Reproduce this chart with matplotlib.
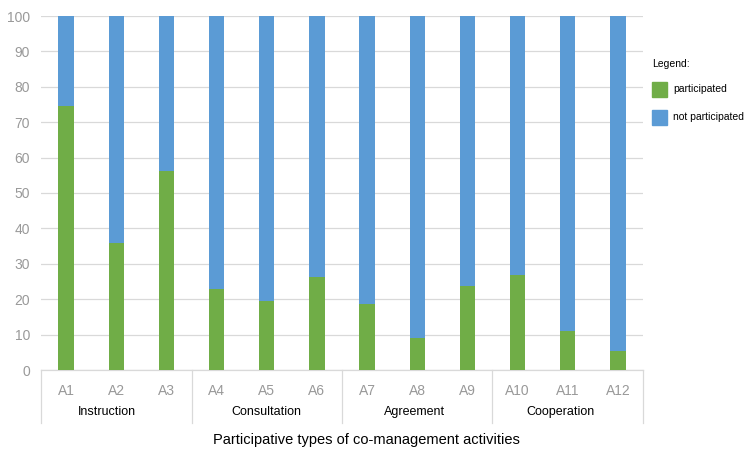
import matplotlib
matplotlib.use("Agg")
import matplotlib.pyplot as plt
from matplotlib.patches import Rectangle
import matplotlib.transforms as mtransforms

plt.rcParams["font.family"] = ["Liberation Sans", "DejaVu Sans"]

# Activity codes, their grouping and participation shares (%)
activities = ["A1", "A2", "A3", "A4", "A5", "A6", "A7", "A8", "A9", "A10", "A11", "A12"]
groups = ["Instruction", "Consultation", "Agreement", "Cooperation"]
participated = [74.5, 35.8, 56.2, 22.8, 19.5, 26.4, 18.7, 8.9, 23.8, 26.8, 11.0, 5.4]
not_participated = [100 - v for v in participated]
yticks = list(range(0, 101, 10))

GREEN = "#70AD47"
BLUE = "#5B9BD5"
GRID = "#D9D9D9"
TICK = "#999999"
NARROW = ["Liberation Sans Narrow", "Liberation Sans", "DejaVu Sans"]

W, H = 749, 455
fig = plt.figure(figsize=(W / 100, H / 100), dpi=100)
ax = fig.add_axes([41 / W, (H - 370) / H, 602 / W, 354 / H])

x = list(range(len(activities)))
ax.bar(x, participated, width=0.305, color=GREEN, zorder=3)
ax.bar(x, not_participated, bottom=participated, width=0.305, color=BLUE, zorder=3)

ax.set_xlim(-0.5, len(activities) - 0.5)
ax.set_ylim(0, 100)
ax.set_yticks(yticks)
ax.set_yticklabels([str(v) for v in yticks], family=NARROW, fontsize=10, color=TICK)
ax.tick_params(axis="y", length=0, pad=8)
ax.set_xticks(x)
ax.set_xticklabels(activities, family=NARROW, fontsize=10, color=TICK)
ax.tick_params(axis="x", length=0, pad=10)
ax.yaxis.grid(True, color=GRID, linewidth=0.9, zorder=0)

for side in ("top", "right", "left"):
    ax.spines[side].set_visible(False)
ax.spines["bottom"].set_color(GRID)
ax.spines["bottom"].set_linewidth(0.9)

# Group separators and group names below the tick labels
trans = mtransforms.blended_transform_factory(ax.transData, ax.transAxes)
name_shift = [-0.18, 0.0, -0.06, -0.14]  # small horizontal nudges, in bar slots
n_per = len(activities) // len(groups)
for i, g in enumerate(groups):
    left = i * n_per - 0.5
    ax.plot([left, left], [0, -53 / 354], color=GRID, linewidth=0.9,
            transform=trans, clip_on=False)
    ax.text(left + n_per / 2 + name_shift[i], -42 / 354, g, transform=trans,
            ha="center", va="center", fontsize=9, color="black")
right = len(activities) - 0.5
ax.plot([right, right], [0, -53 / 354], color=GRID, linewidth=0.9,
        transform=trans, clip_on=False)

fig.text(366 / W, 1 - 440 / H, "Participative types of co-management activities",
         ha="center", va="center", fontsize=10.5, color="black")

# Legend
fig.text(652 / W, 1 - 64 / H, "Legend:", ha="left", va="center", fontsize=7.5)
for yc, col, lab in [(89, GREEN, "participated"), (117, BLUE, "not participated")]:
    fig.patches.append(Rectangle((652 / W, 1 - (yc + 7.5) / H), 15 / W, 15 / H,
                                 transform=fig.transFigure, color=col))
    fig.text(673 / W, 1 - yc / H, lab, ha="left", va="center", fontsize=7.5)

fig.savefig("out.png", dpi=100)
